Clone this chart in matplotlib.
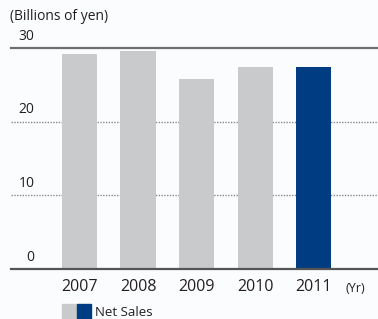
import matplotlib
matplotlib.use("Agg")
import matplotlib.pyplot as plt
from matplotlib.patches import Rectangle
import matplotlib.transforms as mtransforms

years = ["2007", "2008", "2009", "2010", "2011"]
net_sales = [29.2, 29.6, 25.8, 27.4, 27.4]
bar_colors = ["#c9cacc", "#c9cacc", "#c9cacc", "#c9cacc", "#003c82"]
y_ticks = [0, 10, 20, 30]
y_labels = ["0", "10", "20", "30"]

plt.rcParams['font.family'] = ['Open Sans', 'DejaVu Sans']
W, H = 378, 319
fig = plt.figure(figsize=(W / 100, H / 100), dpi=100)
bg = "#fbfcfd"
fig.patch.set_facecolor(bg)

ax = fig.add_axes([11 / W, 1 - 269 / H, 367 / W, (269 - 48) / H])
ax.set_facecolor(bg)
ax.set_xlim(-1.171, 5.10)
ax.set_ylim(0, 30)
for s in ax.spines.values():
    s.set_visible(False)

# dotted gridlines
for v in y_ticks[1:-1]:
    ax.axhline(v, color="#8a8a8a", lw=1.0, linestyle=(0, (1, 1)), zorder=1)
ax.axhline(30, color="#6e6e6e", lw=1.6, zorder=3, clip_on=False)
ax.axhline(0, color="#555555", lw=1.6, zorder=3, clip_on=False)

x = list(range(len(years)))
ax.bar(x, net_sales, width=0.6, color=bar_colors, zorder=2)

ax.set_yticks([])
ax.set_xticks(x)
ax.set_xticklabels(years, fontsize=11.5, color="#231f20")
ax.tick_params(axis="x", length=0, pad=7)

trans = mtransforms.blended_transform_factory(ax.transAxes, ax.transData)
for v, lab in zip(y_ticks, y_labels):
    ax.text(23.5 / 367, v + 0.6, lab, transform=trans, ha="right", va="bottom",
            fontsize=10, color="#231f20")

fig.text(355 / W, 1 - 289 / H, "(Yr)", ha="center", va="center",
         fontsize=9, color="#231f20")
fig.text(10 / W, 1 - 17 / H, "(Billions of yen)", ha="left", va="center",
         fontsize=10, color="#231f20")

# legend
fig.patches.append(Rectangle((62 / W, 0), 14 / W, 15 / H, transform=fig.transFigure,
                             color="#c9cacc"))
fig.patches.append(Rectangle((77 / W, 0), 14 / W, 15 / H, transform=fig.transFigure,
                             color="#003c82"))
fig.text(95 / W, 1 - 312 / H, "Net Sales", ha="left", va="center",
         fontsize=9.5, color="#231f20")

fig.savefig("out.png", dpi=100, facecolor=bg)
